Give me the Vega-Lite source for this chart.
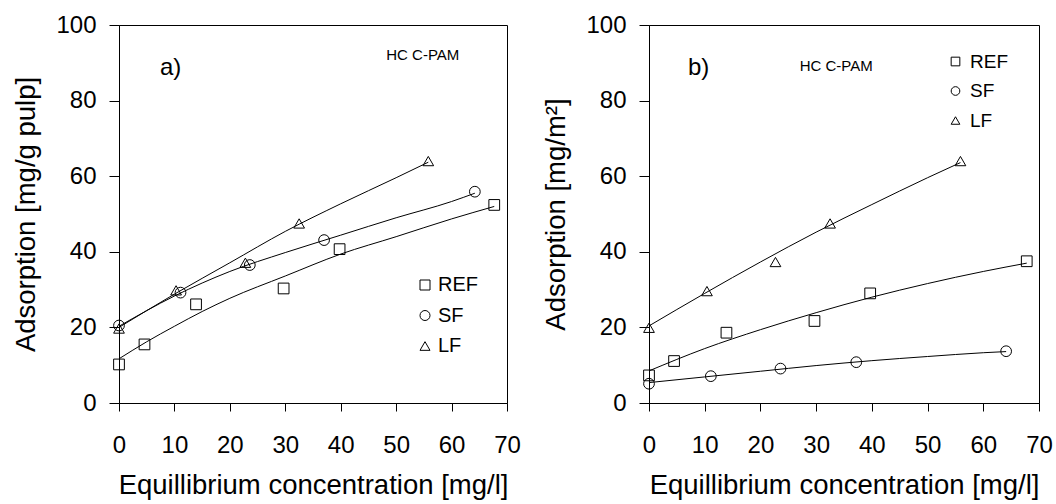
{
  "$schema": "https://vega.github.io/schema/vega-lite/v6.json",
  "background": "white",
  "padding": {"left": 12, "top": 12, "right": 5, "bottom": 1},
  "config": {
    "font": "Liberation Sans",
    "view": {"stroke": "black", "strokeWidth": 1},
    "axis": {
      "domainColor": "black", "tickColor": "black", "labelColor": "black", "titleColor": "black",
      "grid": false, "labelFont": "Liberation Sans", "titleFont": "Liberation Sans",
      "labelFontSize": 24, "titleFontSize": 27.5, "titleFontWeight": "normal",
      "domainWidth": 1, "tickWidth": 1
    },
    "axisY": {"tickSize": 10, "labelPadding": 13, "titlePadding": 15},
    "axisX": {"tickSize": 8, "labelPadding": 22, "titlePadding": 14, "labelFlush": false},
    "legend": {
      "labelFont": "Liberation Sans", "labelColor": "black", "padding": 0,
      "symbolStrokeColor": "black", "symbolFillColor": "transparent", "symbolStrokeWidth": 1
    }
  },
  "datasets": {
    "points_a": [
      {"series": "REF", "c": 0, "v": 10.2}, {"series": "REF", "c": 4.6, "v": 15.5}, {"series": "REF", "c": 13.9, "v": 26.1},
      {"series": "REF", "c": 29.7, "v": 30.3}, {"series": "REF", "c": 39.8, "v": 40.7}, {"series": "REF", "c": 67.7, "v": 52.4},
      {"series": "SF", "c": 0, "v": 20.5}, {"series": "SF", "c": 11.1, "v": 29.2}, {"series": "SF", "c": 23.6, "v": 36.5},
      {"series": "SF", "c": 37.0, "v": 43.1}, {"series": "SF", "c": 64.2, "v": 55.9},
      {"series": "LF", "c": 0, "v": 19.7}, {"series": "LF", "c": 10.3, "v": 29.8}, {"series": "LF", "c": 22.8, "v": 37.1},
      {"series": "LF", "c": 32.5, "v": 47.5}, {"series": "LF", "c": 55.8, "v": 64.0}
    ],
    "fits_a": [
      {"series": "REF", "c": 0, "v": 11.7}, {"series": "REF", "c": 5, "v": 16.2}, {"series": "REF", "c": 10, "v": 20.3},
      {"series": "REF", "c": 15, "v": 24.2}, {"series": "REF", "c": 20, "v": 27.7}, {"series": "REF", "c": 30, "v": 33.6},
      {"series": "REF", "c": 40, "v": 39.4}, {"series": "REF", "c": 50, "v": 44.0}, {"series": "REF", "c": 60, "v": 48.7},
      {"series": "REF", "c": 67.7, "v": 52.0},
      {"series": "SF", "c": 0, "v": 20.3}, {"series": "SF", "c": 10, "v": 28.3}, {"series": "SF", "c": 20, "v": 34.8},
      {"series": "SF", "c": 30, "v": 39.8}, {"series": "SF", "c": 40, "v": 44.4}, {"series": "SF", "c": 50, "v": 49.0},
      {"series": "SF", "c": 60, "v": 53.3}, {"series": "SF", "c": 64.2, "v": 55.5},
      {"series": "LF", "c": 0, "v": 20.0}, {"series": "LF", "c": 10, "v": 28.8}, {"series": "LF", "c": 20, "v": 37.1},
      {"series": "LF", "c": 30, "v": 45.4}, {"series": "LF", "c": 40, "v": 52.7}, {"series": "LF", "c": 50, "v": 59.6},
      {"series": "LF", "c": 55.8, "v": 63.7}
    ],
    "points_b": [
      {"series": "REF", "c": 0, "v": 7.3}, {"series": "REF", "c": 4.5, "v": 11.1}, {"series": "REF", "c": 13.9, "v": 18.6},
      {"series": "REF", "c": 29.7, "v": 21.7}, {"series": "REF", "c": 39.7, "v": 29.0}, {"series": "REF", "c": 67.8, "v": 37.5},
      {"series": "SF", "c": 0, "v": 5.1}, {"series": "SF", "c": 11.1, "v": 7.1}, {"series": "SF", "c": 23.6, "v": 9.1},
      {"series": "SF", "c": 37.2, "v": 10.8}, {"series": "SF", "c": 64.1, "v": 13.7},
      {"series": "LF", "c": 0, "v": 19.9}, {"series": "LF", "c": 10.4, "v": 29.6}, {"series": "LF", "c": 22.7, "v": 37.3},
      {"series": "LF", "c": 32.5, "v": 47.5}, {"series": "LF", "c": 55.9, "v": 64.0}
    ],
    "fits_b": [
      {"series": "REF", "c": 0, "v": 8.5}, {"series": "REF", "c": 10, "v": 14.4}, {"series": "REF", "c": 20, "v": 19.4},
      {"series": "REF", "c": 30, "v": 23.9}, {"series": "REF", "c": 40, "v": 28.0}, {"series": "REF", "c": 50, "v": 31.6},
      {"series": "REF", "c": 60, "v": 34.8}, {"series": "REF", "c": 67.8, "v": 37.0},
      {"series": "SF", "c": 0, "v": 5.4}, {"series": "SF", "c": 10, "v": 6.9}, {"series": "SF", "c": 20, "v": 8.4},
      {"series": "SF", "c": 30, "v": 9.9}, {"series": "SF", "c": 40, "v": 11.2}, {"series": "SF", "c": 50, "v": 12.3},
      {"series": "SF", "c": 60, "v": 13.3}, {"series": "SF", "c": 64.1, "v": 13.6},
      {"series": "LF", "c": 0, "v": 20.4}, {"series": "LF", "c": 10, "v": 29.0}, {"series": "LF", "c": 20, "v": 37.3},
      {"series": "LF", "c": 30, "v": 45.2}, {"series": "LF", "c": 40, "v": 52.5}, {"series": "LF", "c": 50, "v": 59.6},
      {"series": "LF", "c": 55.9, "v": 63.6}
    ],
    "notes_a": [
      {"kind": "panel", "label": "a)", "c": 9.3, "v": 88.7},
      {"kind": "polymer", "label": "HC C-PAM", "c": 54.8, "v": 92.0}
    ],
    "notes_b": [
      {"kind": "panel", "label": "b)", "c": 8.9, "v": 88.7},
      {"kind": "polymer", "label": "HC C-PAM", "c": 33.6, "v": 89.2}
    ]
  },
  "spacing": 142,
  "bounds": "flush",
  "resolve": {"legend": {"shape": "independent"}, "scale": {"shape": "independent"}},
  "hconcat": [
    {
      "width": 388, "height": 378,
      "encoding": {
        "x": {"field": "c", "type": "quantitative", "scale": {"domain": [0, 70], "nice": false, "zero": false},
              "axis": {"values": [0, 10, 20, 30, 40, 50, 60, 70], "title": "Equillibrium concentration [mg/l]"}},
        "y": {"field": "v", "type": "quantitative", "scale": {"domain": [0, 100], "nice": false},
              "axis": {"values": [0, 20, 40, 60, 80, 100], "title": "Adsorption [mg/g pulp]"}}
      },
      "layer": [
        {"data": {"name": "fits_a"}, "mark": {"type": "line", "color": "black", "strokeWidth": 1, "interpolate": "monotone"},
         "encoding": {"detail": {"field": "series"}}},
        {"data": {"name": "points_a"}, "mark": {"type": "point", "filled": false, "stroke": "black", "strokeWidth": 1, "size": 115, "opacity": 1},
         "encoding": {"shape": {"field": "series", "type": "nominal",
           "scale": {"domain": ["REF", "SF", "LF"], "range": ["square", "circle", "triangle-up"]},
           "legend": {"orient": "none", "legendX": 296, "legendY": 250, "title": null, "labelFontSize": 20,
                      "symbolSize": 100, "rowPadding": 10.5, "labelOffset": 3}}}},
        {"data": {"name": "notes_a"}, "transform": [{"filter": "datum.kind === 'panel'"}],
         "mark": {"type": "text", "fontSize": 24, "color": "black", "font": "Liberation Sans"},
         "encoding": {"text": {"field": "label"}}},
        {"data": {"name": "notes_a"}, "transform": [{"filter": "datum.kind === 'polymer'"}],
         "mark": {"type": "text", "fontSize": 15, "color": "black", "font": "Liberation Sans"},
         "encoding": {"text": {"field": "label"}}}
      ]
    },
    {
      "width": 390, "height": 378,
      "encoding": {
        "x": {"field": "c", "type": "quantitative", "scale": {"domain": [0, 70], "nice": false, "zero": false},
              "axis": {"values": [0, 10, 20, 30, 40, 50, 60, 70], "title": "Equillibrium concentration [mg/l]"}},
        "y": {"field": "v", "type": "quantitative", "scale": {"domain": [0, 100], "nice": false},
              "axis": {"values": [0, 20, 40, 60, 80, 100], "title": "Adsorption [mg/m²]"}}
      },
      "layer": [
        {"data": {"name": "fits_b"}, "mark": {"type": "line", "color": "black", "strokeWidth": 1, "interpolate": "monotone"},
         "encoding": {"detail": {"field": "series"}}},
        {"data": {"name": "points_b"}, "mark": {"type": "point", "filled": false, "stroke": "black", "strokeWidth": 1, "size": 115, "opacity": 1},
         "encoding": {"shape": {"field": "series", "type": "nominal",
           "scale": {"domain": ["REF", "SF", "LF"], "range": ["square", "circle", "triangle-up"]},
           "legend": {"orient": "none", "legendX": 297, "legendY": 27, "title": null, "labelFontSize": 19,
                      "symbolSize": 75, "rowPadding": 9.5, "labelOffset": 5}}}},
        {"data": {"name": "notes_b"}, "transform": [{"filter": "datum.kind === 'panel'"}],
         "mark": {"type": "text", "fontSize": 24, "color": "black", "font": "Liberation Sans"},
         "encoding": {"text": {"field": "label"}}},
        {"data": {"name": "notes_b"}, "transform": [{"filter": "datum.kind === 'polymer'"}],
         "mark": {"type": "text", "fontSize": 15, "color": "black", "font": "Liberation Sans"},
         "encoding": {"text": {"field": "label"}}}
      ]
    }
  ]
}
